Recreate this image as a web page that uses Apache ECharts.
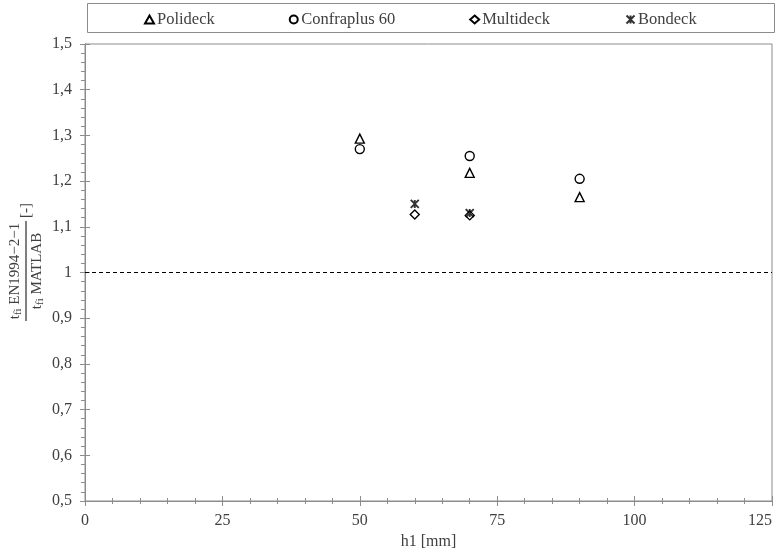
<!DOCTYPE html>
<html>
<head>
<meta charset="utf-8">
<script src="https://cdn.jsdelivr.net/npm/echarts@6/dist/echarts.min.js"></script>
<style>html,body{margin:0;padding:0;background:#fff;}#c{width:778px;height:552px;}</style>
</head>
<body>
<div id="c"></div>
<script>
var seriesNames = ['Polideck', 'Confraplus 60', 'Multideck', 'Bondeck'];
var polideckX = [50, 70, 90];
var polideckY = [1.293, 1.218, 1.165];
var confraX = [50, 70, 90];
var confraY = [1.270, 1.255, 1.205];
var multiX = [60, 70];
var multiY = [1.127, 1.125];
var bondX = [60, 70];
var bondY = [1.150, 1.130];
var refLineY = 1;
var xTicks = [0, 25, 50, 75, 100, 125];
var yMin = 0.5, yMax = 1.5, yStep = 0.1;

function pairs(xs, ys) { return xs.map(function (x, i) { return [x, ys[i]]; }); }

var FONT = 'Liberation Serif';
var TXT = '#404040';
var AX = '#8c8c8c';
var starPath = 'path://M0,0L10,10M10,0L0,10M5,0L5,10';

function mk(name, symbol, data, size) {
  return {
    name: name, type: 'scatter', symbol: symbol, symbolSize: size,
    data: data,
    itemStyle: { color: '#fff', borderColor: '#000', borderWidth: 1.4, opacity: 1 },
    emphasis: { disabled: true }
  };
}

var chart = echarts.init(document.getElementById('c'), null, { renderer: 'canvas' });

var commonX = {
  type: 'value', min: 0, max: 125, interval: 25,
  axisLine: { show: true, lineStyle: { color: AX, width: 1 } },
  splitLine: { show: false }
};
var commonY = {
  type: 'value', min: yMin, max: yMax, interval: yStep,
  axisLine: { show: true, lineStyle: { color: AX, width: 1 } },
  splitLine: { show: false }
};

var series = [
  mk(seriesNames[0], 'triangle', pairs(polideckX, polideckY), 9),
  mk(seriesNames[1], 'circle', pairs(confraX, confraY), 9),
  mk(seriesNames[2], 'diamond', pairs(multiX, multiY), 9),
  mk(seriesNames[3], starPath, pairs(bondX, bondY), 8)
];
series[3].itemStyle = { color: 'none', borderColor: '#000', borderWidth: 1.9 };
series[0].markLine = {
  silent: true, symbol: ['none', 'none'], label: { show: false },
  lineStyle: { color: '#000', type: [4, 3], width: 1.2 },
  data: [{ yAxis: refLineY }]
};

var rich = {
  t: { fontFamily: FONT, fontSize: 15, fill: TXT },
  s: { fontFamily: FONT, fontSize: 11, fill: TXT, padding: [7, 0, 0, 0] }
};

chart.setOption({
  animation: false,
  backgroundColor: '#fff',
  grid: { left: 85, right: 6, top: 44, bottom: 51, show: true, borderColor: AX, borderWidth: 1,
    backgroundColor: 'transparent', outerBoundsMode: 'none', containLabel: false },
  legend: {
    top: 6, left: 139,
    itemGap: 74, itemWidth: 9, itemHeight: 8,
    textStyle: { fontFamily: FONT, fontSize: 16.5, color: TXT, padding: [0, 0, 0, -2] },
    data: seriesNames
  },
  xAxis: [
    Object.assign({}, commonX, {
      name: 'h1 [mm]', nameLocation: 'middle', nameGap: 32,
      nameTextStyle: { fontFamily: FONT, fontSize: 16, color: TXT },
      axisTick: { show: true, inside: false, length: 5, lineStyle: { color: AX } },
      minorTick: { show: true, splitNumber: 5, length: 3, lineStyle: { color: AX } },
      axisLabel: { fontFamily: FONT, fontSize: 16, color: TXT, margin: 12, alignMaxLabel: 'right',
        formatter: function (v) { return xTicks.indexOf(v) >= 0 ? String(v) : ''; } }
    }),
    Object.assign({}, commonX, {
      position: 'bottom', axisLabel: { show: false },
      axisTick: { show: true, inside: true, length: 5, lineStyle: { color: AX } },
      minorTick: { show: true, splitNumber: 5, length: 3, lineStyle: { color: AX } }
    })
  ],
  yAxis: [
    Object.assign({}, commonY, {
      axisTick: { show: true, inside: false, length: 5, lineStyle: { color: AX } },
      minorTick: { show: true, splitNumber: 5, length: 4, lineStyle: { color: AX } },
      axisLabel: { fontFamily: FONT, fontSize: 16, color: TXT, margin: 13,
        formatter: function (v) { return String(Math.round(v * 10) / 10).replace('.', ','); } }
    }),
    Object.assign({}, commonY, {
      position: 'left', axisLabel: { show: false },
      axisTick: { show: true, inside: true, length: 5, lineStyle: { color: AX } },
      minorTick: { show: false }
    })
  ],
  graphic: [
    { type: 'rect', left: 85, top: 1, shape: { width: 687, height: 29 }, silent: true,
      style: { fill: 'none', stroke: AX, lineWidth: 1 }, z: -1 },
    { type: 'group', x: 26, y: 271, rotation: Math.PI / 2, silent: true, children: [
      { type: 'text', x: 0, y: -2, style: {
          text: '{t|t}{s|fi}{t| EN1994\u22122\u22121}', align: 'center', verticalAlign: 'bottom',
          rich: rich, fill: TXT } },
      { type: 'line', shape: { x1: -50, y1: 0, x2: 50, y2: 0 }, style: { stroke: '#000', lineWidth: 1 } },
      { type: 'text', x: 0, y: 2, style: {
          text: '{t|t}{s|fi}{t| MATLAB}', align: 'center', verticalAlign: 'top',
          rich: rich, fill: TXT } },
      { type: 'text', x: 53, y: 0, style: { text: '[-]', fontFamily: FONT, fontSize: 15, fill: TXT, align: 'left', verticalAlign: 'middle' } }
    ] }
  ],
  series: series
});
</script>
</body>
</html>
